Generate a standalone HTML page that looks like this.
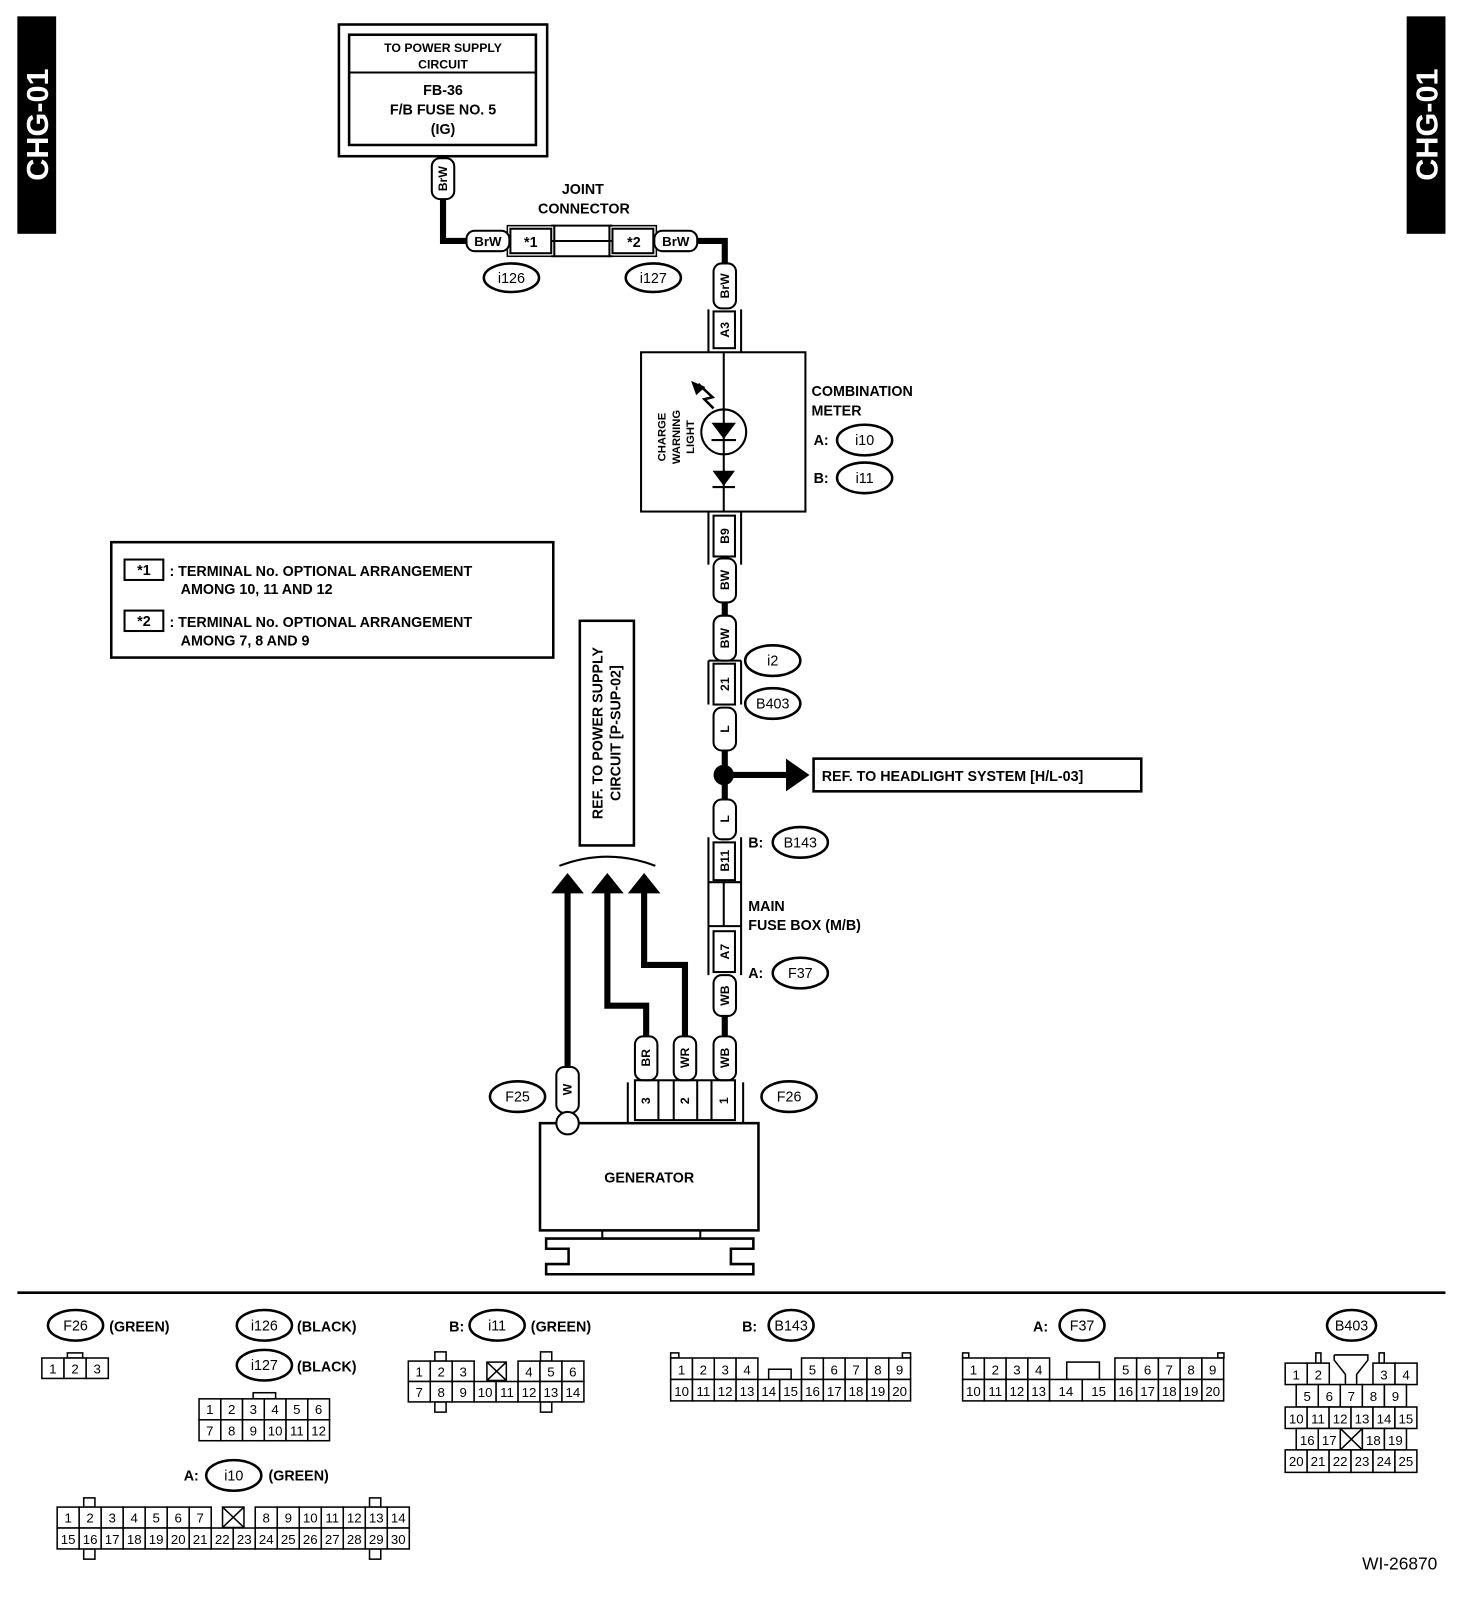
<!DOCTYPE html>
<html><head><meta charset="utf-8"><style>
html,body{margin:0;padding:0;background:#fff}
svg{display:block}
text{font-family:"Liberation Sans",Arial,sans-serif;fill:#000}
.b{font-weight:bold}
.c{font-size:13px;text-anchor:middle}
.m{text-anchor:middle}
</style></head><body>
<svg width="1472" height="1600" viewBox="0 0 1442 1567" preserveAspectRatio="none" xmlns="http://www.w3.org/2000/svg">
<rect width="1442" height="1567" fill="#fff"/>
<!-- side tabs -->
<rect x="17" y="16" width="38" height="213" fill="#000"/>
<text transform="rotate(-90 36 122)" x="36" y="133" class="m b" style="font-size:30px;fill:#fff">CHG-01</text>
<rect x="1378" y="16" width="38" height="213" fill="#000"/>
<text transform="rotate(-90 1397 122)" x="1397" y="133" class="m b" style="font-size:30px;fill:#fff">CHG-01</text>

<g fill="none" stroke="#000">
<!-- top box -->
<rect x="332" y="24" width="204" height="129" stroke-width="2.5"/>
<rect x="342" y="34" width="183" height="108" stroke-width="2.5"/>
<line x1="342" y1="71" x2="525" y2="71" stroke-width="2"/>
<!-- wires thick -->
<polyline points="434,195 434,236 457,236" stroke-width="6"/>
<polyline points="682,236 710,236 710,258" stroke-width="6"/>
<line x1="710" y1="590" x2="710" y2="603" stroke-width="6"/>
<line x1="710" y1="735" x2="710" y2="783" stroke-width="6"/>
<line x1="710" y1="759" x2="772" y2="759" stroke-width="6"/>
<line x1="710" y1="995" x2="710" y2="1015" stroke-width="6"/>
<polyline points="633,1015 633,985 595,985 595,872" stroke-width="6"/>
<polyline points="671,1015 671,945 631,945 631,872" stroke-width="6"/>
<line x1="556" y1="1045" x2="556" y2="872" stroke-width="6"/>
<!-- joint connector -->
<line x1="540" y1="221" x2="600" y2="221" stroke-width="2"/>
<line x1="540" y1="251" x2="600" y2="251" stroke-width="2"/>
<line x1="540" y1="236" x2="600" y2="236" stroke-width="2"/>
<rect x="500" y="224" width="40" height="24" stroke-width="2"/>
<rect x="497" y="221" width="46" height="30" stroke-width="1.5"/>
<rect x="600" y="224" width="40" height="24" stroke-width="2"/>
<rect x="597" y="221" width="46" height="30" stroke-width="1.5"/>
<line x1="543" y1="221" x2="543" y2="251" stroke-width="2"/>
<line x1="597" y1="221" x2="597" y2="251" stroke-width="2"/>
<!-- horizontal BrW pills -->
<rect x="457" y="226" width="42" height="20" rx="8" fill="#fff" stroke-width="2"/>
<rect x="641" y="226" width="42" height="20" rx="8" fill="#fff" stroke-width="2"/>
<!-- ellipses -->
<g stroke-width="2.5">
<ellipse cx="501" cy="272" rx="27" ry="14"/>
<ellipse cx="640" cy="272" rx="27" ry="14"/>
<ellipse cx="847" cy="431" rx="27" ry="15"/>
<ellipse cx="847" cy="468" rx="27" ry="15"/>
<ellipse cx="757" cy="647" rx="27" ry="15"/>
<ellipse cx="757" cy="689" rx="27" ry="15"/>
<ellipse cx="784" cy="825" rx="27" ry="15"/>
<ellipse cx="784" cy="953" rx="27" ry="15"/>
<ellipse cx="507" cy="1074" rx="27" ry="15"/>
<ellipse cx="773" cy="1074" rx="27" ry="15"/>
</g>
<!-- combination meter -->
<rect x="628" y="345" width="161" height="156" stroke-width="2"/>
<line x1="709" y1="345" x2="709" y2="501" stroke-width="2"/>
<circle cx="709" cy="423" r="22" stroke-width="2" fill="#fff"/>
<line x1="709" y1="401" x2="709" y2="445" stroke-width="2"/>
<line x1="697" y1="431" x2="721" y2="431" stroke-width="2"/>
<line x1="698" y1="477" x2="720" y2="477" stroke-width="2"/>
<polyline points="699,400 690,391 698,389 684,376" stroke-width="2.5"/>
<!-- connector boxes with outer rails -->
<g stroke-width="2">
<line x1="694" y1="303" x2="694" y2="345"/><line x1="726" y1="303" x2="726" y2="345"/>
<rect x="699" y="305" width="21" height="36"/>
<line x1="694" y1="501" x2="694" y2="553"/><line x1="726" y1="501" x2="726" y2="553"/>
<rect x="699" y="505" width="21" height="40"/>
<line x1="694" y1="647" x2="694" y2="690"/><line x1="726" y1="647" x2="726" y2="690"/>
<line x1="694" y1="647" x2="726" y2="647"/>
<rect x="699" y="650" width="21" height="40"/>
<line x1="694" y1="820" x2="694" y2="955"/><line x1="726" y1="820" x2="726" y2="955"/>
<rect x="699" y="825" width="21" height="37"/>
<line x1="694" y1="864" x2="726" y2="864"/><line x1="694" y1="907" x2="726" y2="907"/>
<line x1="709" y1="864" x2="709" y2="907"/>
<rect x="699" y="912" width="21" height="40"/>
</g>
<!-- vertical pills -->
<g stroke-width="2" fill="#fff">
<rect x="423" y="155" width="22" height="40" rx="8"/>
<rect x="699" y="258" width="22" height="44" rx="8"/>
<rect x="699" y="547" width="22" height="43" rx="8"/>
<rect x="699" y="603" width="22" height="44" rx="8"/>
<rect x="699" y="693" width="22" height="42" rx="8"/>
<rect x="699" y="783" width="22" height="39" rx="8"/>
<rect x="699" y="955" width="22" height="40" rx="8"/>
<rect x="699" y="1015" width="22" height="43" rx="8"/>
<rect x="622" y="1015" width="22" height="43" rx="8"/>
<rect x="660" y="1015" width="22" height="43" rx="8"/>
<rect x="545" y="1045" width="22" height="45" rx="8"/>
</g>
<!-- ref headlight -->
<rect x="797" y="743" width="321" height="32" stroke-width="2.5"/>
<!-- ref power supply -->
<rect x="568" y="608" width="53" height="220" stroke-width="2.5"/>
<path d="M548,848 Q595,830 642,848" stroke-width="2"/>
<!-- generator -->
<line x1="615" y1="1060" x2="615" y2="1100" stroke-width="2"/>
<line x1="728" y1="1060" x2="728" y2="1100" stroke-width="2"/>
<rect x="622" y="1058" width="98" height="39" stroke-width="2"/>
<line x1="645" y1="1058" x2="645" y2="1097" stroke-width="2"/>
<line x1="660" y1="1058" x2="660" y2="1097" stroke-width="2"/>
<line x1="683" y1="1058" x2="683" y2="1097" stroke-width="2"/>
<line x1="697" y1="1058" x2="697" y2="1097" stroke-width="2"/>
<rect x="529" y="1100" width="214" height="105" stroke-width="2.5"/>
<circle cx="556" cy="1100" r="11" fill="#fff" stroke-width="2"/>
<line x1="590" y1="1205" x2="590" y2="1213" stroke-width="2"/>
<line x1="686" y1="1205" x2="686" y2="1213" stroke-width="2"/>
<polygon points="535,1213 738,1213 738,1223 716,1223 716,1238 738,1238 738,1248 535,1248 535,1238 557,1238 557,1223 535,1223" stroke-width="2.5"/>
<!-- legend -->
<rect x="109" y="531" width="433" height="113" stroke-width="2.5"/>
<rect x="122" y="548" width="38" height="20" stroke-width="2"/>
<rect x="122" y="598" width="38" height="20" stroke-width="2"/>
</g>
<!-- filled items -->
<polygon points="697,414 721,414 709,430" fill="#000"/>
<polygon points="698,461 720,461 709,476" fill="#000"/>
<polygon points="677,373 691,379 682,387" fill="#000"/>
<circle cx="709" cy="759" r="10" fill="#000"/>
<polygon points="770,743 793,759 770,775" fill="#000"/>
<polygon points="540,875 572,875 556,855" fill="#000"/>
<polygon points="579,875 611,875 595,855" fill="#000"/>
<polygon points="615,875 647,875 631,855" fill="#000"/>
<line x1="17" y1="1266" x2="1416" y2="1266" stroke="#000" stroke-width="2.5"/>

<!-- texts -->
<g class="b">
<text x="434" y="51" class="m" style="font-size:12px">TO POWER SUPPLY</text>
<text x="434" y="67" class="m" style="font-size:12px">CIRCUIT</text>
<text x="434" y="93" class="m" style="font-size:14px">FB-36</text>
<text x="434" y="112" class="m" style="font-size:14px">F/B FUSE NO. 5</text>
<text x="434" y="131" class="m" style="font-size:14px">(IG)</text>
<text x="571" y="190" class="m" style="font-size:14px">JOINT</text>
<text x="572" y="209" class="m" style="font-size:14px">CONNECTOR</text>
<text x="478" y="241" class="m" style="font-size:13px">BrW</text>
<text x="662" y="241" class="m" style="font-size:13px">BrW</text>
<text x="520" y="242" class="m" style="font-size:14px">*1</text>
<text x="621" y="242" class="m" style="font-size:14px">*2</text>
<text x="795" y="388" style="font-size:14px">COMBINATION</text>
<text x="795" y="407" style="font-size:14px">METER</text>
<text x="797" y="436" style="font-size:14px">A:</text>
<text x="797" y="473" style="font-size:14px">B:</text>
<text x="733" y="830" style="font-size:14px">B:</text>
<text x="733" y="958" style="font-size:14px">A:</text>
<text x="733" y="892" style="font-size:14px">MAIN</text>
<text x="733" y="911" style="font-size:14px">FUSE BOX (M/B)</text>
<text x="805" y="765" style="font-size:14px">REF. TO HEADLIGHT SYSTEM [H/L-03]</text>
<text transform="rotate(-90 595 718)" x="595" y="713" class="m" style="font-size:14px">REF. TO POWER SUPPLY</text>
<text transform="rotate(-90 595 718)" x="595" y="731" class="m" style="font-size:14px">CIRCUIT [P-SUP-02]</text>
<text x="636" y="1158" class="m" style="font-size:14px">GENERATOR</text>
<text x="141" y="563" class="m" style="font-size:14px">*1</text>
<text x="141" y="613" class="m" style="font-size:14px">*2</text>
<text x="166" y="564" style="font-size:14px">: TERMINAL No. OPTIONAL ARRANGEMENT</text>
<text x="177" y="582" style="font-size:14px">AMONG 10, 11 AND 12</text>
<text x="166" y="614" style="font-size:14px">: TERMINAL No. OPTIONAL ARRANGEMENT</text>
<text x="177" y="632" style="font-size:14px">AMONG 7, 8 AND 9</text>
<g style="font-size:12px" class="m">
<text transform="rotate(-90 434 175)" x="434" y="179">BrW</text>
<text transform="rotate(-90 710 280)" x="710" y="284">BrW</text>
<text transform="rotate(-90 710 323)" x="710" y="327">A3</text>
<text transform="rotate(-90 710 525)" x="710" y="529">B9</text>
<text transform="rotate(-90 710 568)" x="710" y="572">BW</text>
<text transform="rotate(-90 710 625)" x="710" y="629">BW</text>
<text transform="rotate(-90 710 670)" x="710" y="674">21</text>
<text transform="rotate(-90 710 714)" x="710" y="718">L</text>
<text transform="rotate(-90 710 802)" x="710" y="806">L</text>
<text transform="rotate(-90 710 843)" x="710" y="847">B11</text>
<text transform="rotate(-90 710 932)" x="710" y="936">A7</text>
<text transform="rotate(-90 710 975)" x="710" y="979">WB</text>
<text transform="rotate(-90 710 1036)" x="710" y="1040">WB</text>
<text transform="rotate(-90 633 1036)" x="633" y="1040">BR</text>
<text transform="rotate(-90 671 1036)" x="671" y="1040">WR</text>
<text transform="rotate(-90 556 1067)" x="556" y="1071">W</text>
<text transform="rotate(-90 633 1078)" x="633" y="1082">3</text>
<text transform="rotate(-90 671 1078)" x="671" y="1082">2</text>
<text transform="rotate(-90 709 1078)" x="709" y="1082">1</text>
</g>
<g style="font-size:11px" class="m">
<text transform="rotate(-90 667 428)" x="667" y="413">CHARGE</text>
<text transform="rotate(-90 667 428)" x="667" y="427">WARNING</text>
<text transform="rotate(-90 667 428)" x="667" y="441">LIGHT</text>
</g>
</g>
<g style="font-size:14px" class="m">
<text x="501" y="277">i126</text>
<text x="640" y="277">i127</text>
<text x="847" y="436">i10</text>
<text x="847" y="473">i11</text>
<text x="757" y="652">i2</text>
<text x="757" y="694">B403</text>
<text x="784" y="830">B143</text>
<text x="784" y="958">F37</text>
<text x="507" y="1079">F25</text>
<text x="773" y="1079">F26</text>
</g>

<!-- bottom connectors -->
<g fill="none" stroke="#000" stroke-width="2.5">
<ellipse cx="74" cy="1298" rx="27" ry="15"/>
<ellipse cx="259" cy="1298" rx="27" ry="15"/>
<ellipse cx="259" cy="1337" rx="27" ry="15"/>
<ellipse cx="229" cy="1445" rx="27" ry="15"/>
<ellipse cx="487" cy="1298" rx="27" ry="15"/>
<ellipse cx="775" cy="1298" rx="22" ry="15"/>
<ellipse cx="1060" cy="1298" rx="22" ry="15"/>
<ellipse cx="1324" cy="1298" rx="24" ry="15"/>
</g>
<g class="b" style="font-size:14px">
<text x="107" y="1304">(GREEN)</text>
<text x="291" y="1304">(BLACK)</text>
<text x="291" y="1343">(BLACK)</text>
<text x="263" y="1450">(GREEN)</text>
<text x="180" y="1450">A:</text>
<text x="440" y="1304">B:</text>
<text x="520" y="1304">(GREEN)</text>
<text x="727" y="1304">B:</text>
<text x="1012" y="1304">A:</text>
</g>
<g style="font-size:14px" class="m">
<text x="74" y="1303">F26</text>
<text x="259" y="1303">i126</text>
<text x="259" y="1342">i127</text>
<text x="229" y="1450">i10</text>
<text x="487" y="1303">i11</text>
<text x="775" y="1303">B143</text>
<text x="1060" y="1303">F37</text>
<text x="1324" y="1303">B403</text>
</g>
<g fill="#fff" stroke="#000" stroke-width="1.5">
<rect x="66" y="1325" width="15" height="5"/>
<rect x="41" y="1330" width="21.7" height="20"/><rect x="62.7" y="1330" width="21.7" height="20"/><rect x="84.4" y="1330" width="21.7" height="20"/>
<rect x="248" y="1364" width="22" height="6"/>
<rect x="195" y="1370" width="21.3" height="20.5"/><rect x="216.3" y="1370" width="21.3" height="20.5"/><rect x="237.6" y="1370" width="21.3" height="20.5"/><rect x="258.9" y="1370" width="21.3" height="20.5"/><rect x="280.2" y="1370" width="21.3" height="20.5"/><rect x="301.5" y="1370" width="21.3" height="20.5"/>
<rect x="195" y="1390.5" width="21.3" height="20.5"/><rect x="216.3" y="1390.5" width="21.3" height="20.5"/><rect x="237.6" y="1390.5" width="21.3" height="20.5"/><rect x="258.9" y="1390.5" width="21.3" height="20.5"/><rect x="280.2" y="1390.5" width="21.3" height="20.5"/><rect x="301.5" y="1390.5" width="21.3" height="20.5"/>
<rect x="426" y="1324" width="11" height="9"/><rect x="529.5" y="1324" width="11" height="9"/>
<rect x="426" y="1373" width="11" height="10"/><rect x="529.5" y="1373" width="11" height="10"/>
<rect x="400" y="1333" width="21.5" height="20"/><rect x="421.5" y="1333" width="21.5" height="20"/><rect x="443" y="1333" width="21.5" height="20"/>
<rect x="507.5" y="1333" width="21.5" height="20"/><rect x="529" y="1333" width="21.5" height="20"/><rect x="550.5" y="1333" width="21.5" height="20"/>
<rect x="400" y="1353" width="21.5" height="20"/><rect x="421.5" y="1353" width="21.5" height="20"/><rect x="443" y="1353" width="21.5" height="20"/><rect x="464.5" y="1353" width="21.5" height="20"/><rect x="486" y="1353" width="21.5" height="20"/><rect x="507.5" y="1353" width="21.5" height="20"/><rect x="529" y="1353" width="21.5" height="20"/><rect x="550.5" y="1353" width="21.5" height="20"/>
<rect x="477" y="1334" width="19" height="18"/>
<rect x="82" y="1467" width="11" height="9"/><rect x="362" y="1467" width="11" height="9"/>
<rect x="82" y="1517" width="11" height="10"/><rect x="362" y="1517" width="11" height="10"/>
<rect x="56" y="1476" width="21.56" height="20.5"/><rect x="77.56" y="1476" width="21.56" height="20.5"/><rect x="99.12" y="1476" width="21.56" height="20.5"/><rect x="120.68" y="1476" width="21.56" height="20.5"/><rect x="142.24" y="1476" width="21.56" height="20.5"/><rect x="163.8" y="1476" width="21.56" height="20.5"/><rect x="185.36" y="1476" width="21.56" height="20.5"/>
<rect x="250.04" y="1476" width="21.56" height="20.5"/><rect x="271.6" y="1476" width="21.56" height="20.5"/><rect x="293.16" y="1476" width="21.56" height="20.5"/><rect x="314.72" y="1476" width="21.56" height="20.5"/><rect x="336.28" y="1476" width="21.56" height="20.5"/><rect x="357.84" y="1476" width="21.56" height="20.5"/><rect x="379.4" y="1476" width="21.56" height="20.5"/>
<rect x="218" y="1476" width="21" height="20"/>
<rect x="56" y="1496.5" width="21.56" height="20.5"/><rect x="77.56" y="1496.5" width="21.56" height="20.5"/><rect x="99.12" y="1496.5" width="21.56" height="20.5"/><rect x="120.68" y="1496.5" width="21.56" height="20.5"/><rect x="142.24" y="1496.5" width="21.56" height="20.5"/><rect x="163.8" y="1496.5" width="21.56" height="20.5"/><rect x="185.36" y="1496.5" width="21.56" height="20.5"/><rect x="206.92" y="1496.5" width="21.56" height="20.5"/><rect x="228.48" y="1496.5" width="21.56" height="20.5"/><rect x="250.04" y="1496.5" width="21.56" height="20.5"/><rect x="271.6" y="1496.5" width="21.56" height="20.5"/><rect x="293.16" y="1496.5" width="21.56" height="20.5"/><rect x="314.72" y="1496.5" width="21.56" height="20.5"/><rect x="336.28" y="1496.5" width="21.56" height="20.5"/><rect x="357.84" y="1496.5" width="21.56" height="20.5"/><rect x="379.4" y="1496.5" width="21.56" height="20.5"/>
<rect x="657" y="1325" width="8" height="5"/><rect x="884" y="1325" width="8" height="5"/>
<rect x="657" y="1330" width="21.36" height="21"/><rect x="678.36" y="1330" width="21.36" height="21"/><rect x="699.72" y="1330" width="21.36" height="21"/><rect x="721.08" y="1330" width="21.36" height="21"/>
<rect x="785.2" y="1330" width="21.36" height="21"/><rect x="806.56" y="1330" width="21.36" height="21"/><rect x="827.92" y="1330" width="21.36" height="21"/><rect x="849.28" y="1330" width="21.36" height="21"/><rect x="870.64" y="1330" width="21.36" height="21"/>
<rect x="753" y="1341" width="22" height="10"/>
<rect x="657" y="1351" width="21.36" height="21"/><rect x="678.36" y="1351" width="21.36" height="21"/><rect x="699.72" y="1351" width="21.36" height="21"/><rect x="721.08" y="1351" width="21.36" height="21"/><rect x="742.44" y="1351" width="21.36" height="21"/><rect x="763.8" y="1351" width="21.36" height="21"/><rect x="785.2" y="1351" width="21.36" height="21"/><rect x="806.56" y="1351" width="21.36" height="21"/><rect x="827.92" y="1351" width="21.36" height="21"/><rect x="849.28" y="1351" width="21.36" height="21"/><rect x="870.64" y="1351" width="21.36" height="21"/>
<rect x="943" y="1325" width="6" height="5"/><rect x="1193" y="1325" width="6" height="5"/>
<rect x="943" y="1330" width="21.3" height="21"/><rect x="964.3" y="1330" width="21.3" height="21"/><rect x="985.6" y="1330" width="21.3" height="21"/><rect x="1006.9" y="1330" width="21.3" height="21"/>
<rect x="1092.2" y="1330" width="21.3" height="21"/><rect x="1113.5" y="1330" width="21.3" height="21"/><rect x="1134.8" y="1330" width="21.3" height="21"/><rect x="1156.1" y="1330" width="21.3" height="21"/><rect x="1177.4" y="1330" width="21.3" height="21"/>
<rect x="1045" y="1334" width="32" height="17"/>
<rect x="943" y="1351" width="21.3" height="21"/><rect x="964.3" y="1351" width="21.3" height="21"/><rect x="985.6" y="1351" width="21.3" height="21"/><rect x="1006.9" y="1351" width="21.3" height="21"/><rect x="1028.2" y="1351" width="32" height="21"/><rect x="1060.2" y="1351" width="32" height="21"/>
<rect x="1092.2" y="1351" width="21.3" height="21"/><rect x="1113.5" y="1351" width="21.3" height="21"/><rect x="1134.8" y="1351" width="21.3" height="21"/><rect x="1156.1" y="1351" width="21.3" height="21"/><rect x="1177.4" y="1351" width="21.3" height="21"/>
<rect x="1289" y="1325" width="5" height="10"/><rect x="1351" y="1325" width="5" height="10"/>
<rect x="1259" y="1335" width="21.6" height="21"/><rect x="1280.6" y="1335" width="21.6" height="21"/>
<rect x="1345" y="1335" width="21.6" height="21"/><rect x="1366.6" y="1335" width="21.6" height="21"/>
<rect x="1269.8" y="1356" width="21.6" height="22"/><rect x="1291.4" y="1356" width="21.6" height="22"/><rect x="1313" y="1356" width="21.6" height="22"/><rect x="1334.6" y="1356" width="21.6" height="22"/><rect x="1356.2" y="1356" width="21.6" height="22"/>
<rect x="1259" y="1378" width="21.5" height="21"/><rect x="1280.5" y="1378" width="21.5" height="21"/><rect x="1302" y="1378" width="21.5" height="21"/><rect x="1323.5" y="1378" width="21.5" height="21"/><rect x="1345" y="1378" width="21.5" height="21"/><rect x="1366.5" y="1378" width="21.5" height="21"/>
<rect x="1269.8" y="1399" width="21.6" height="21"/><rect x="1291.4" y="1399" width="21.6" height="21"/><rect x="1313" y="1399" width="21.6" height="21"/><rect x="1334.6" y="1399" width="21.6" height="21"/><rect x="1356.2" y="1399" width="21.6" height="21"/>
<rect x="1259" y="1420" width="21.5" height="22"/><rect x="1280.5" y="1420" width="21.5" height="22"/><rect x="1302" y="1420" width="21.5" height="22"/><rect x="1323.5" y="1420" width="21.5" height="22"/><rect x="1345" y="1420" width="21.5" height="22"/><rect x="1366.5" y="1420" width="21.5" height="22"/>
<polyline points="1307,1327 1340,1327 1340,1332 1329,1346 1329,1356" fill="none"/>
<polyline points="1307,1327 1307,1332 1318,1346 1318,1356" fill="none"/>
</g>
<g stroke="#000" stroke-width="1.5">
<line x1="477" y1="1334" x2="496" y2="1352"/><line x1="496" y1="1334" x2="477" y2="1352"/>
<line x1="218" y1="1476" x2="239" y2="1496"/><line x1="239" y1="1476" x2="218" y2="1496"/>
<line x1="1313" y1="1399" x2="1334.6" y2="1420"/><line x1="1334.6" y1="1399" x2="1313" y2="1420"/>
</g>
<g class="c">
<text x="51.8" y="1345">1</text><text x="73.5" y="1345">2</text><text x="95.2" y="1345">3</text>
<text x="205.6" y="1385">1</text><text x="227" y="1385">2</text><text x="248.2" y="1385">3</text><text x="269.5" y="1385">4</text><text x="290.8" y="1385">5</text><text x="312.1" y="1385">6</text>
<text x="205.6" y="1406">7</text><text x="227" y="1406">8</text><text x="248.2" y="1406">9</text><text x="269.5" y="1406">10</text><text x="290.8" y="1406">11</text><text x="312.1" y="1406">12</text>
<text x="410.7" y="1348">1</text><text x="432.2" y="1348">2</text><text x="453.7" y="1348">3</text><text x="518.2" y="1348">4</text><text x="539.7" y="1348">5</text><text x="561.2" y="1348">6</text>
<text x="410.7" y="1368">7</text><text x="432.2" y="1368">8</text><text x="453.7" y="1368">9</text><text x="475.2" y="1368">10</text><text x="496.7" y="1368">11</text><text x="518.2" y="1368">12</text><text x="539.7" y="1368">13</text><text x="561.2" y="1368">14</text>
<text x="66.8" y="1491">1</text><text x="88.3" y="1491">2</text><text x="109.9" y="1491">3</text><text x="131.5" y="1491">4</text><text x="153" y="1491">5</text><text x="174.6" y="1491">6</text><text x="196.1" y="1491">7</text>
<text x="260.8" y="1491">8</text><text x="282.4" y="1491">9</text><text x="303.9" y="1491">10</text><text x="325.5" y="1491">11</text><text x="347" y="1491">12</text><text x="368.6" y="1491">13</text><text x="390.2" y="1491">14</text>
<text x="66.8" y="1512">15</text><text x="88.3" y="1512">16</text><text x="109.9" y="1512">17</text><text x="131.5" y="1512">18</text><text x="153" y="1512">19</text><text x="174.6" y="1512">20</text><text x="196.1" y="1512">21</text><text x="217.7" y="1512">22</text><text x="239.3" y="1512">23</text><text x="260.8" y="1512">24</text><text x="282.4" y="1512">25</text><text x="303.9" y="1512">26</text><text x="325.5" y="1512">27</text><text x="347" y="1512">28</text><text x="368.6" y="1512">29</text><text x="390.2" y="1512">30</text>
<text x="667.7" y="1346">1</text><text x="689" y="1346">2</text><text x="710.4" y="1346">3</text><text x="731.8" y="1346">4</text><text x="795.9" y="1346">5</text><text x="817.2" y="1346">6</text><text x="838.6" y="1346">7</text><text x="860" y="1346">8</text><text x="881.3" y="1346">9</text>
<text x="667.7" y="1367">10</text><text x="689" y="1367">11</text><text x="710.4" y="1367">12</text><text x="731.8" y="1367">13</text><text x="753.1" y="1367">14</text><text x="774.5" y="1367">15</text><text x="795.9" y="1367">16</text><text x="817.2" y="1367">17</text><text x="838.6" y="1367">18</text><text x="860" y="1367">19</text><text x="881.3" y="1367">20</text>
<text x="953.6" y="1346">1</text><text x="975" y="1346">2</text><text x="996.2" y="1346">3</text><text x="1017.5" y="1346">4</text><text x="1102.8" y="1346">5</text><text x="1124.2" y="1346">6</text><text x="1145.4" y="1346">7</text><text x="1166.8" y="1346">8</text><text x="1188" y="1346">9</text>
<text x="953.6" y="1367">10</text><text x="975" y="1367">11</text><text x="996.2" y="1367">12</text><text x="1017.5" y="1367">13</text><text x="1044.2" y="1367">14</text><text x="1076.2" y="1367">15</text><text x="1102.8" y="1367">16</text><text x="1124.2" y="1367">17</text><text x="1145.4" y="1367">18</text><text x="1166.8" y="1367">19</text><text x="1188" y="1367">20</text>
<text x="1269.8" y="1351">1</text><text x="1291.4" y="1351">2</text><text x="1355.8" y="1351">3</text><text x="1377.4" y="1351">4</text>
<text x="1280.6" y="1372">5</text><text x="1302.2" y="1372">6</text><text x="1323.8" y="1372">7</text><text x="1345.4" y="1372">8</text><text x="1367" y="1372">9</text>
<text x="1269.8" y="1394">10</text><text x="1291.2" y="1394">11</text><text x="1312.8" y="1394">12</text><text x="1334.2" y="1394">13</text><text x="1355.8" y="1394">14</text><text x="1377.2" y="1394">15</text>
<text x="1280.6" y="1415">16</text><text x="1302.2" y="1415">17</text><text x="1345.4" y="1415">18</text><text x="1367" y="1415">19</text>
<text x="1269.8" y="1436">20</text><text x="1291.2" y="1436">21</text><text x="1312.8" y="1436">22</text><text x="1334.2" y="1436">23</text><text x="1355.8" y="1436">24</text><text x="1377.2" y="1436">25</text>
</g>
<text x="1408" y="1537" style="font-size:17px;text-anchor:end">WI-26870</text>
</svg>
</body></html>
